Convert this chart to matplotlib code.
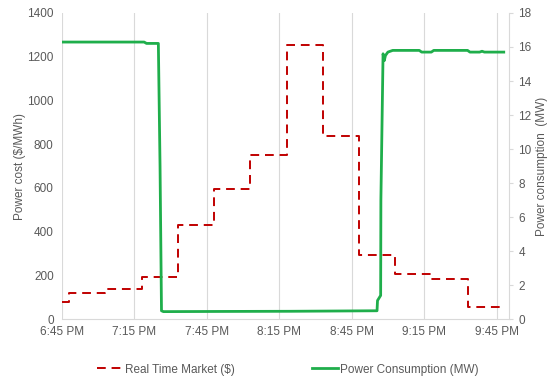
import matplotlib
matplotlib.use('Agg')
import matplotlib.pyplot as plt
import pandas as pd

plt.rcParams['font.family'] = ['Liberation Sans', 'DejaVu Sans']

DAY = "2020-01-01 "

# Real time market price ($/MWh), step changes
price_times = ["18:45", "18:48", "19:03", "19:18", "19:33", "19:48", "20:03",
               "20:18", "20:33", "20:48", "21:03", "21:18", "21:33", "21:48"]
price_values = [80, 122, 137, 193, 430, 597, 750, 1255, 836, 295, 205, 182, 57, 57]

# Power consumption (MW)
load_times = ["18:45", "19:19", "19:20", "19:24.9", "19:25.6", "19:26.2", "19:27",
              "19:50", "20:20", "20:55.5", "20:55.7", "20:57", "20:57.1", "20:58",
              "20:58.5", "20:59", "21:00", "21:02", "21:13", "21:14", "21:18",
              "21:19", "21:33", "21:34", "21:38", "21:39", "21:40", "21:48"]
load_values = [16.29, 16.29, 16.21, 16.21, 9.0, 0.5, 0.45,
               0.46, 0.47, 0.5, 1.1, 1.4, 7.0, 15.6,
               15.2, 15.5, 15.7, 15.8, 15.8, 15.7, 15.7,
               15.8, 15.8, 15.7, 15.7, 15.75, 15.7, 15.7]

def to_dt(ts):
    out = []
    for t in ts:
        h, m = t.split(":")
        out.append(pd.Timestamp(DAY + h + ":00") + pd.Timedelta(minutes=float(m)))
    return out

tick_labels = ["6:45 PM", "7:15 PM", "7:45 PM", "8:15 PM", "8:45 PM", "9:15 PM", "9:45 PM"]
tick_times = to_dt(["18:45", "19:15", "19:45", "20:15", "20:45", "21:15", "21:45"])

gray = "#595959"
light = "#d9d9d9"
red = "#c00000"
green = "#1fae4b"

fig = plt.figure(figsize=(5.54, 3.81), dpi=100)
ax = fig.add_axes([0.112, 0.162, 0.806, 0.804])
ax2 = ax.twinx()

l1, = ax.step(to_dt(price_times), price_values, where="post", color=red,
              lw=1.4, ls=(0, (4.5, 3)), label="Real Time Market ($)")
l2, = ax2.plot(to_dt(load_times), load_values, color=green, lw=2,
               label="Power Consumption (MW)")

ax.set_xlim(pd.Timestamp(DAY + "18:45"), pd.Timestamp(DAY + "21:50"))
ax.set_ylim(0, 1400)
ax2.set_ylim(0, 18)
ax.set_yticks(range(0, 1401, 200))
ax2.set_yticks(range(0, 19, 2))
ax.set_xticks(tick_times)
ax.set_xticklabels(tick_labels)
ax.xaxis.grid(True, color=light, lw=0.8)
ax.set_axisbelow(True)

for a in (ax, ax2):
    for s in a.spines.values():
        s.set_visible(False)
ax.spines["bottom"].set_visible(True)
ax.spines["bottom"].set_color(light)
ax2.spines["right"].set_visible(True)
ax2.spines["right"].set_color(light)

ax.tick_params(axis="x", length=0, pad=5, labelsize=8.5, labelcolor=gray)
ax.tick_params(axis="y", length=0, pad=6, labelsize=8.5, labelcolor=gray)
ax2.tick_params(axis="y", length=3, color=light, pad=4, labelsize=8.5, labelcolor=gray)

ax.set_ylabel("Power cost ($/MWh)", color=gray, fontsize=8.5, labelpad=1)
ax2.set_ylabel("Power consumption  (MW)", color=gray, fontsize=8.5, labelpad=3)

fig.legend([l1, l2], [l1.get_label(), l2.get_label()], loc="center",
           bbox_to_anchor=(0.52, 0.03), ncol=2, frameon=False, fontsize=8.5,
           labelcolor=gray, handlelength=2.2, handletextpad=0.2, columnspacing=6.5)

fig.savefig("out.png", dpi=100)
